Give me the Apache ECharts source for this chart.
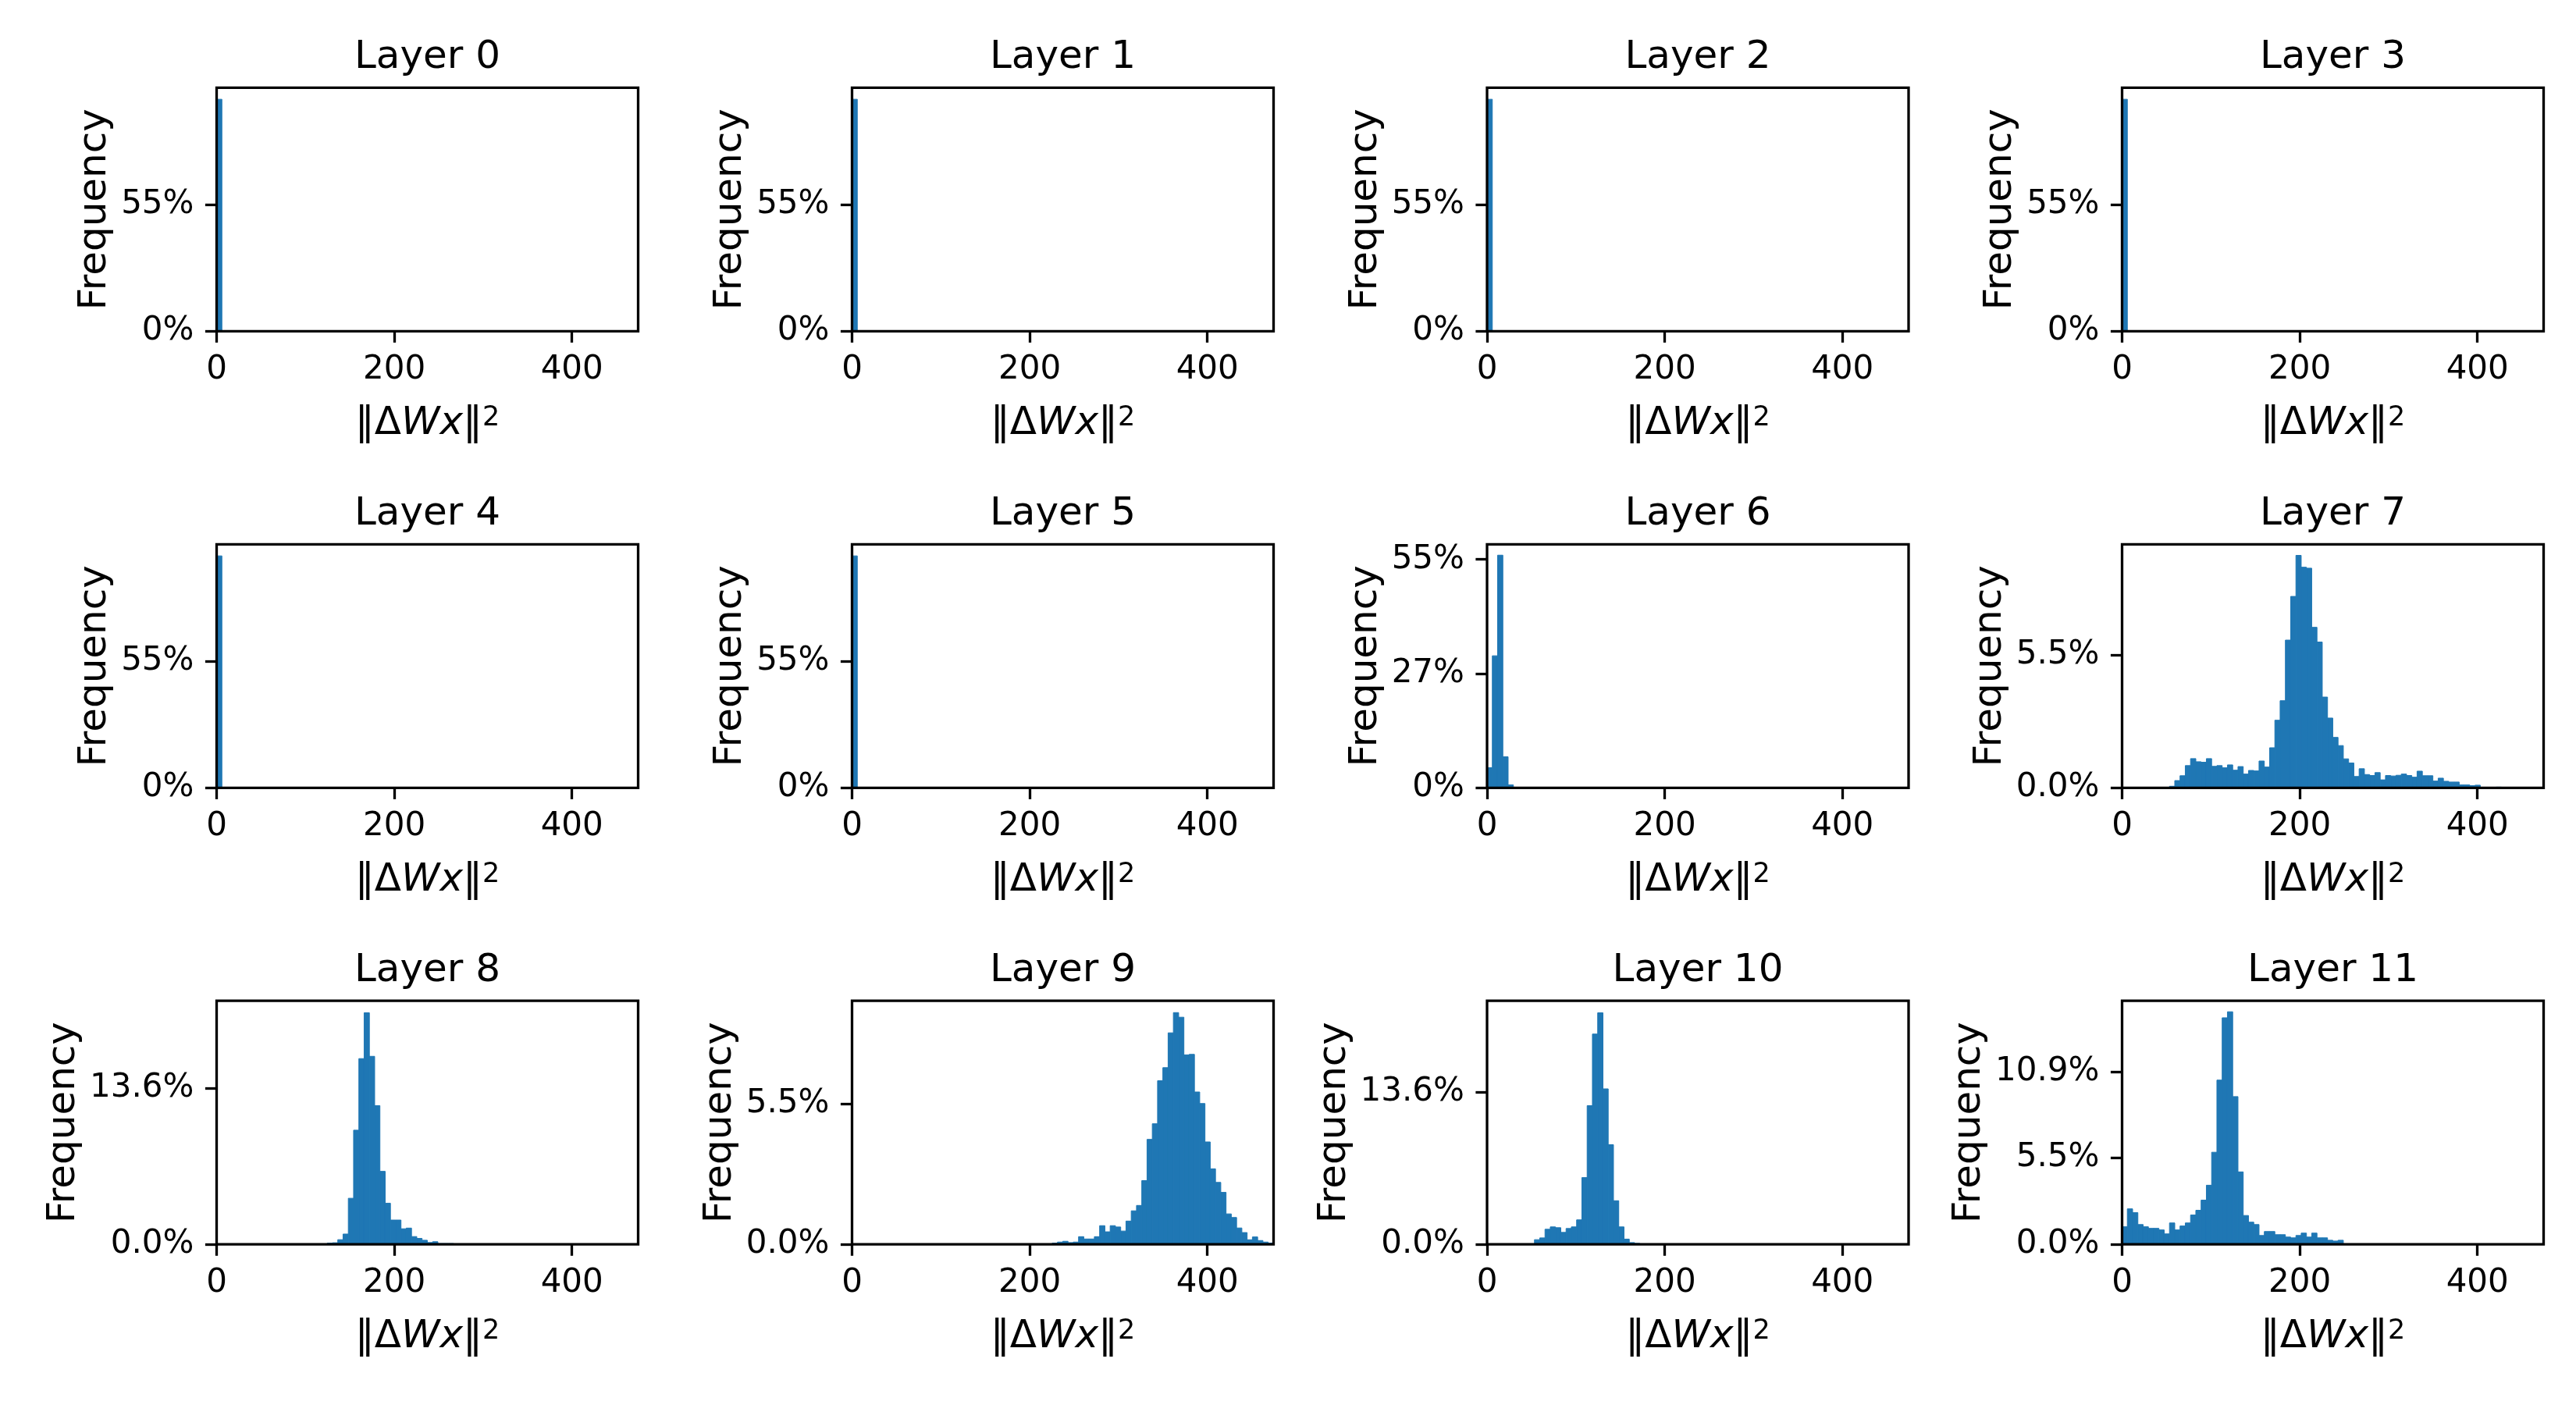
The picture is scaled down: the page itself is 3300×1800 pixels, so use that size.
<!DOCTYPE html>
<html>
<head>
<meta charset="utf-8">
<script src="https://cdn.jsdelivr.net/npm/echarts@6/dist/echarts.min.js"></script>
<style>
  html, body { margin: 0; background: #fff; }
  #chart { width: 3300px; height: 1800px; }
</style>
</head>
<body>
<div id="chart"></div>
<script>
// histogram bins shared by every layer
const binWidth = 5.93;
const xMax = 474.5;
const xTicks = [0, 200, 400];

const layerNames = ['Layer 0', 'Layer 1', 'Layer 2', 'Layer 3', 'Layer 4', 'Layer 5',
  'Layer 6', 'Layer 7', 'Layer 8', 'Layer 9', 'Layer 10', 'Layer 11'];

// index of the first non-empty bin of each layer
const startBin = [0, 0, 0, 0, 0, 0, 0, 9, 21, 38, 9, 0];

// frequency per bin, in percent
const layer0 = [100];
const layer1 = [100];
const layer2 = [100];
const layer3 = [100];
const layer4 = [100];
const layer5 = [100];
const layer6 = [4.8, 31.5, 55.5, 7.4, 0.7];
const layer7 = [0.065, 0.30, 0.50, 0.92, 1.21, 1.08, 1.06, 1.21, 0.89, 0.92,
  0.83, 0.95, 0.73, 0.88, 0.57, 0.72, 0.70, 1.11, 0.86, 1.66,
  2.80, 3.61, 6.12, 7.93, 9.63, 9.14, 9.10, 6.65, 6.04, 3.76,
  2.89, 2.09, 1.75, 1.20, 1.03, 0.47, 0.79, 0.55, 0.51, 0.63,
  0.33, 0.51, 0.49, 0.52, 0.57, 0.51, 0.44, 0.69, 0.50, 0.50,
  0.28, 0.40, 0.27, 0.24, 0.24, 0.12, 0.12, 0.09, 0.11, 0, 0, 0, 0.03];
const layer8 = [0.11, 0.14, 0.41, 0.90, 4.02, 9.96, 16.2, 20.2, 16.4, 12.1,
  6.37, 3.59, 2.12, 2.12, 1.36, 1.42, 0.68, 0.52, 0.36, 0.16,
  0.23, 0.07, 0.07, 0.07];
const layer9 = [0.05, 0.09, 0.12, 0.07, 0.09, 0.30, 0.21, 0.21, 0.30, 0.73,
  0.49, 0.73, 0.68, 0.52, 0.91, 1.31, 1.52, 2.49, 4.10, 4.71,
  6.39, 6.90, 8.26, 9.05, 8.87, 7.40, 7.42, 5.95, 5.50, 4.00,
  2.95, 2.42, 2.03, 1.19, 1.05, 0.64, 0.46, 0.18, 0.29, 0.15,
  0.09, 0.05];
const layer10 = [0.42, 0.58, 1.35, 1.56, 1.49, 1.07, 1.42, 1.56, 2.19, 5.97,
  12.4, 18.8, 20.7, 13.9, 8.91, 3.90, 1.56, 0.47, 0.16, 0.09];
const layer11 = [1.11, 2.24, 2.00, 1.25, 1.11, 1.01, 1.01, 0.91, 0.66, 1.35,
  0.91, 1.16, 1.35, 1.85, 2.15, 2.79, 3.73, 5.81, 10.36, 14.29,
  14.67, 9.32, 4.57, 1.82, 1.40, 1.25, 0.56, 0.81, 0.81, 0.61,
  0.61, 0.46, 0.41, 0.56, 0.71, 0.46, 0.71, 0.41, 0.41, 0.26,
  0.21, 0.26, 0.03];
const layerFreq = [layer0, layer1, layer2, layer3, layer4, layer5,
  layer6, layer7, layer8, layer9, layer10, layer11];

// y axis ticks (percent), label decimals and upper limit per layer
const yTicks = [[0, 54.5], [0, 54.5], [0, 54.5], [0, 54.5], [0, 54.5], [0, 54.5],
  [0, 27.25, 54.5], [0, 5.5], [0, 13.62], [0, 5.5], [0, 13.62], [0, 5.45, 10.9]];
const yDecimals = [0, 0, 0, 0, 0, 0, 0, 1, 1, 1, 1, 1];
const yMax = [105, 105, 105, 105, 105, 105, 58.1, 10.09, 21.24, 9.51, 21.77, 15.36];

const FONT = 'DejaVu Sans';
const FS_TICK = 42;   // 10pt
const FS_LABEL = 50;  // 12pt
const LW = 3.3;
const BLUE = '#1f77b4';
const colLeft = [277.5, 1091.5, 1905, 2718.5];
const rowTop = [112.3, 697.3, 1282.2];
const gw = 540, gh = 312;

const measure = document.createElement('canvas').getContext('2d');
measure.font = FS_TICK + 'px "' + FONT + '"';

const chart = echarts.init(document.getElementById('chart'));

const grid = [], xAxis = [], yAxis = [], series = [], title = [];

layerNames.forEach((name, i) => {
  const r = Math.floor(i / 4), c = i % 4;
  const fmt = v => v.toFixed(yDecimals[i]) + '%';
  const labelW = Math.max(...yTicks[i].map(v => measure.measureText(fmt(v)).width));

  grid.push({
    left: colLeft[c], top: rowTop[r], width: gw, height: gh,
    show: true, borderColor: '#000', borderWidth: LW, backgroundColor: 'transparent',
    containLabel: false, outerBoundsMode: 'none', z: 3
  });

  title.push({
    text: name, left: colLeft[c] + gw / 2, top: rowTop[r] - 63, textAlign: 'center', padding: 0,
    textStyle: { fontFamily: FONT, fontSize: FS_LABEL, fontWeight: 'normal', color: '#000' }
  });

  xAxis.push({
    type: 'value', gridIndex: i, min: 0, max: xMax, z: 3,
    splitLine: { show: false },
    axisLine: { show: false },
    axisTick: { show: true, length: 14.6, lineStyle: { color: '#000', width: LW }, customValues: xTicks },
    axisLabel: { fontFamily: FONT, fontSize: FS_TICK, color: '#000', margin: 29, customValues: xTicks },
    name: '{n|‖Δ}{i|Wx}{n|‖}{s|2}',
    nameLocation: 'middle', nameGap: 94,
    nameTextStyle: {
      fontFamily: FONT, fontSize: FS_LABEL, color: '#000',
      rich: {
        n: { fontFamily: FONT, fontSize: FS_LABEL, color: '#000' },
        i: { fontFamily: FONT, fontSize: FS_LABEL, fontStyle: 'italic', color: '#000' },
        s: { fontFamily: FONT, fontSize: 35, lineHeight: 22, color: '#000', verticalAlign: 'top' }
      }
    }
  });

  yAxis.push({
    type: 'value', gridIndex: i, min: 0, max: yMax[i], z: 3,
    splitLine: { show: false },
    axisLine: { show: false },
    axisTick: { show: true, length: 14.6, lineStyle: { color: '#000', width: LW }, customValues: yTicks[i] },
    axisLabel: { fontFamily: FONT, fontSize: FS_TICK, color: '#000', margin: 29, formatter: fmt, customValues: yTicks[i] },
    name: 'Frequency', nameLocation: 'middle', nameRotate: 90,
    nameGap: 29 + labelW + 8,
    nameTextStyle: { fontFamily: FONT, fontSize: FS_LABEL, color: '#000' }
  });

  const data = layerFreq[i].map((v, k) => {
    const b = startBin[i] + k;
    return [b * binWidth, (b + 1) * binWidth, v];
  }).filter(d => d[2] > 0);

  series.push({
    type: 'custom', xAxisIndex: i, yAxisIndex: i, z: 1, clip: true, silent: true,
    data: data,
    renderItem: (params, api) => {
      const p0 = api.coord([api.value(0), 0]);
      const p1 = api.coord([api.value(1), api.value(2)]);
      return {
        type: 'rect',
        shape: { x: p0[0], y: p1[1], width: p1[0] - p0[0], height: p0[1] - p1[1] },
        style: { fill: BLUE, stroke: BLUE, lineWidth: 1 }
      };
    }
  });
});

chart.setOption({
  backgroundColor: '#fff',
  animation: false,
  title, grid, xAxis, yAxis, series
});
</script>
</body>
</html>
